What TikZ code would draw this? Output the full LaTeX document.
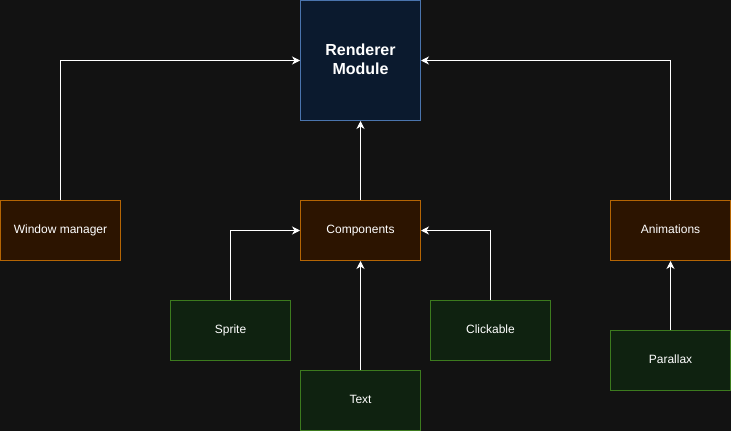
\documentclass[tikz,border=0pt]{standalone}
\usepackage{fontspec}
\setmainfont{Liberation Sans}
\usetikzlibrary{arrows.meta}
\definecolor{bg}{HTML}{121212}
\definecolor{bluefill}{HTML}{0B1A2E}
\definecolor{bluedraw}{HTML}{4A74AD}
\definecolor{orfill}{HTML}{2C1400}
\definecolor{ordraw}{HTML}{B46504}
\definecolor{grfill}{HTML}{0F2210}
\definecolor{grdraw}{HTML}{3C7A1E}
\tikzset{
  box/.style={draw, line width=1pt, minimum width=120pt, minimum height=60pt,
    inner sep=0pt, anchor=north west, text=white, font=\fontsize{12}{14}\selectfont, align=center,
    execute at begin node=\vphantom{Ag}},
  bluebox/.style={box, fill=bluefill, draw=bluedraw, minimum height=120pt,
    font=\fontsize{16}{19}\selectfont\bfseries, execute at begin node={}},
  orbox/.style={box, fill=orfill, draw=ordraw},
  grbox/.style={box, fill=grfill, draw=grdraw},
  conn/.style={draw=white, line width=0.9pt, -{Stealth[length=8pt,width=8pt,inset=2.5pt]}},
}
\begin{document}
\begin{tikzpicture}[x=1pt,y=-1pt]
\fill[bg] (0,0) rectangle (731,431);
\useasboundingbox (0,0) rectangle (731,431);
\node[bluebox] (renderer) at (300,0) {Renderer\\Module};
\node[orbox] (window) at (0,200) {Window manager};
\node[orbox] (components) at (300,200) {Components};
\node[orbox] (animations) at (610,200) {Animations};
\node[grbox] (sprite) at (170,300) {Sprite};
\node[grbox] (clickable) at (430,300) {Clickable};
\node[grbox] (text) at (300,370) {Text};
\node[grbox] (parallax) at (610,330) {Parallax};
\draw[conn] (window.north) |- (renderer.west);
\draw[conn] (animations.north) |- (renderer.east);
\draw[conn] (components.north) -- (renderer.south);
\draw[conn] (sprite.north) |- (components.west);
\draw[conn] (clickable.north) |- (components.east);
\draw[conn] (text.north) -- (components.south);
\draw[conn] (parallax.north) -- (animations.south);
\end{tikzpicture}
\end{document}
